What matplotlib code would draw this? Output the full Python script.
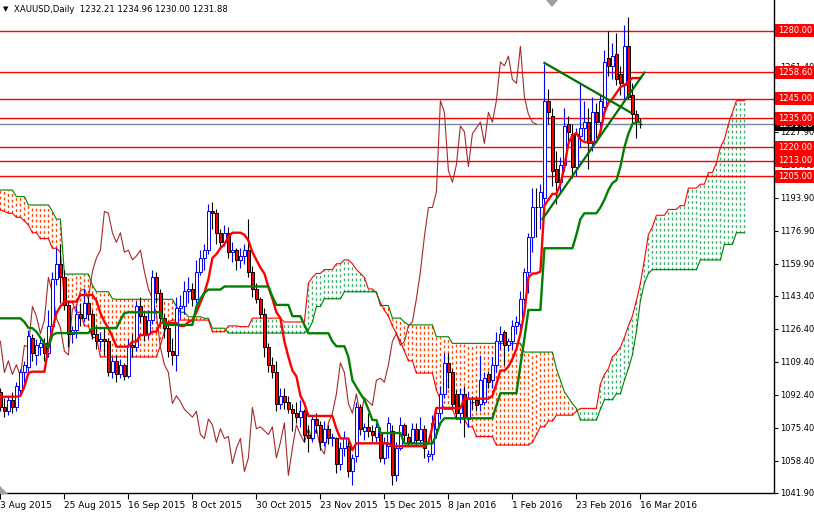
import numpy as np
import matplotlib
matplotlib.use('Agg')
from matplotlib import pyplot as plt
from matplotlib.patches import Polygon, Rectangle

# XAUUSD daily bars, 3 Aug 2015 .. 16 Mar 2016
opens = [1094, 1086, 1084, 1090, 1086, 1095, 1104, 1107, 1122, 1113,
         1117, 1119, 1114, 1128, 1152, 1160, 1153, 1139, 1124, 1126,
         1134, 1132, 1140, 1134, 1124, 1120, 1121, 1120, 1104, 1110,
         1103, 1108, 1102, 1118, 1117, 1138, 1133, 1124, 1131, 1153,
         1145, 1132, 1127, 1115, 1113, 1137, 1138, 1146, 1147, 1142,
         1156, 1163, 1167, 1187, 1186, 1176, 1171, 1176, 1166, 1167,
         1162, 1164, 1167, 1156, 1147, 1142, 1134, 1117, 1108, 1104,
         1088, 1092, 1089, 1085, 1083, 1081, 1084, 1072, 1070, 1080,
         1077, 1068, 1075, 1070, 1070, 1057, 1065, 1066, 1053, 1061,
         1086, 1074, 1076, 1074, 1071, 1073, 1060, 1066, 1074, 1051,
         1065, 1077, 1071, 1068, 1075, 1069, 1075, 1061, 1062, 1075,
         1083, 1093, 1109, 1104, 1093, 1083, 1093, 1080, 1089, 1090,
         1088, 1089, 1103, 1100, 1108, 1120, 1125, 1118, 1120, 1128,
         1129, 1142, 1156, 1174, 1189, 1189, 1194, 1244, 1236, 1209,
         1202, 1211, 1232, 1227, 1210, 1226, 1230, 1233, 1222, 1238,
         1233, 1241, 1266, 1262, 1268, 1258, 1252, 1272, 1247, 1237,
         1232.21]
highs = [1096, 1091, 1092, 1094, 1099, 1106, 1110, 1126, 1124, 1121,
         1121, 1122, 1136, 1156, 1168, 1170, 1157, 1141, 1128, 1138,
         1140, 1147, 1143, 1136, 1128, 1125, 1127, 1122, 1112, 1113,
         1111, 1109, 1121, 1124, 1141, 1143, 1135, 1136, 1157, 1156,
         1147, 1134, 1129, 1122, 1143, 1144, 1151, 1153, 1150, 1162,
         1167, 1170, 1191, 1192, 1188, 1178, 1180, 1179, 1171, 1168,
         1168, 1170, 1183, 1159, 1150, 1143, 1137, 1119, 1112, 1110,
         1096, 1096, 1092, 1088, 1089, 1090, 1085, 1077, 1082, 1083,
         1079, 1079, 1077, 1073, 1071, 1068, 1074, 1070, 1062, 1089,
         1088, 1078, 1083, 1077, 1078, 1076, 1071, 1081, 1077, 1068,
         1081, 1078, 1073, 1078, 1078, 1081, 1077, 1064, 1082, 1086,
         1097, 1114, 1114, 1106, 1095, 1096, 1097, 1094, 1092, 1092,
         1113, 1104, 1105, 1112, 1125, 1128, 1126, 1122, 1131, 1133,
         1146, 1158, 1176, 1199, 1199, 1201, 1263, 1250, 1240, 1218,
         1215, 1240, 1236, 1232, 1230, 1253, 1244, 1240, 1246, 1243,
         1247, 1270, 1280, 1274, 1279, 1262, 1283, 1287, 1253, 1239,
         1234.96]
lows = [1084, 1081, 1082, 1083, 1084, 1092, 1098, 1104, 1110, 1108,
        1113, 1110, 1112, 1126, 1149, 1140, 1136, 1117, 1119, 1122,
        1128, 1130, 1131, 1121, 1116, 1116, 1113, 1102, 1101, 1099,
        1101, 1100, 1101, 1112, 1115, 1130, 1120, 1122, 1129, 1140,
        1128, 1122, 1112, 1108, 1105, 1132, 1134, 1140, 1138, 1140,
        1154, 1157, 1165, 1178, 1170, 1168, 1169, 1163, 1161, 1157,
        1158, 1160, 1153, 1143, 1140, 1132, 1112, 1104, 1101, 1084,
        1085, 1085, 1083, 1074, 1078, 1076, 1068, 1063, 1068, 1073,
        1064, 1066, 1067, 1066, 1052, 1054, 1061, 1050, 1046, 1058,
        1072, 1069, 1071, 1068, 1068, 1058, 1057, 1060, 1046, 1048,
        1064, 1068, 1066, 1067, 1066, 1067, 1060, 1058, 1059, 1070,
        1080, 1091, 1096, 1085, 1080, 1078, 1071, 1076, 1085, 1084,
        1084, 1087, 1096, 1096, 1104, 1116, 1108, 1115, 1116, 1124,
        1124, 1139, 1145, 1166, 1174, 1178, 1191, 1232, 1200, 1191,
        1196, 1208, 1223, 1204, 1205, 1220, 1224, 1209, 1218, 1225,
        1228, 1238, 1257, 1255, 1252, 1247, 1245, 1245, 1232, 1225,
        1230.00]
closes = [1086, 1084, 1090, 1086, 1097, 1104, 1108, 1123, 1114, 1118,
          1119, 1114, 1128, 1152, 1160, 1153, 1139, 1124, 1126, 1134,
          1132, 1140, 1134, 1124, 1120, 1121, 1120, 1104, 1110, 1103,
          1108, 1102, 1118, 1117, 1138, 1133, 1124, 1131, 1153, 1145,
          1132, 1127, 1115, 1113, 1137, 1138, 1146, 1147, 1142, 1156,
          1163, 1167, 1187, 1186, 1176, 1171, 1176, 1166, 1167, 1162,
          1164, 1167, 1156, 1147, 1142, 1134, 1117, 1108, 1104, 1088,
          1092, 1089, 1085, 1083, 1081, 1084, 1072, 1070, 1080, 1077,
          1068, 1075, 1070, 1071, 1057, 1065, 1070, 1053, 1060, 1086,
          1075, 1076, 1074, 1072, 1076, 1060, 1068, 1078, 1051, 1065,
          1077, 1072, 1068, 1075, 1069, 1075, 1065, 1062, 1078, 1083,
          1093, 1109, 1104, 1088, 1083, 1093, 1081, 1091, 1089, 1087,
          1100, 1101, 1099, 1108, 1120, 1124, 1118, 1120, 1128, 1130,
          1142, 1156, 1174, 1189, 1189, 1197, 1244, 1238, 1208, 1202,
          1211, 1231, 1228, 1210, 1227, 1230, 1233, 1222, 1238, 1233,
          1244, 1264, 1262, 1267, 1255, 1253, 1272, 1246, 1237, 1233,
          1231.88]

# Ichimoku lines as drawn on the chart
tenkan = ([1091.5] * 5 + [1092, 1096.7, 1103.7] + [1104.4] * 4
          + [1117, 1126, 1134.6, 1138] + [1140.5] * 4 + [1143.9] * 4
          + [1141, 1134.6, 1130.2, 1126.8, 1122.4] + [1117.3] * 4
          + [1119.9] * 2 + [1123.3] * 3 + [1125] * 2 + [1129.5] * 5 + [1128] * 2
          + [1130, 1131, 1135, 1140, 1145, 1152, 1163, 1165, 1168, 1170, 1174]
          + [1176] * 3
          + [1175, 1172, 1166, 1162, 1158, 1155, 1148, 1142, 1135, 1132,
             1120, 1112, 1105, 1102, 1092, 1088]
          + [1081.6] * 7 + [1075] + [1070] * 3 + [1064] + [1067.5] * 9
          + [1066] * 9 + [1067.7, 1076] + [1085.7] * 7 + [1090.5] * 7
          + [1092, 1098] + [1105] * 2 + [1107, 1111, 1116, 1124, 1135, 1153]
          + [1155] * 2 + [1156, 1190, 1193] + [1196] * 2
          + [1201, 1210, 1222, 1226, 1227.4, 1224] + [1222.7] * 4
          + [1228, 1238, 1243, 1245, 1248, 1251, 1252, 1254] + [1255.7] * 3)
kijun = ([1131.9] * 6 + [1130, 1127, 1126.8, 1125, 1122, 1119, 1117, 1123.3]
         + [1124.3] * 9 + [1126.9] * 7 + [1131, 1134.6] + [1135] * 9
         + [1128.5] * 8 + [1138, 1142, 1145] + [1146.7] * 4 + [1148.3] * 12
         + [1143] + [1138.8] * 4 + [1133] * 3 + [1128.5] + [1124.2] * 6
         + [1120] + [1117.5] * 3 + [1112, 1100, 1096.5, 1093, 1090, 1085]
         + [1079.5] * 2 + [1072.8] * 6 + [1067.4] * 8 + [1072, 1078]
         + [1080.4] * 13 + [1087] + [1093.3] * 5 + [1107.6, 1121.4]
         + [1136.2] * 4 + [1168] * 8 + [1175, 1183] + [1186] * 4
         + [1189, 1193, 1198, 1201.6, 1203, 1210, 1220, 1227, 1232] + [1233] * 2)
span_a = ([1187.7, 1187] + [1186] * 2 + [1184] * 2 + [1182, 1180] + [1176] * 2
          + [1173] * 3 + [1168] * 2 + [1166] + [1140] * 3 + [1135] * 2
          + [1128] * 2 + [1122] * 2 + [1112] * 15 + [1118, 1125, 1130]
          + [1131] * 10 + [1125] * 4 + [1128] * 3 + [1127.6] * 3 + [1132] * 8
          + [1130] * 6 + [1150, 1153] + [1155] * 2 + [1157] * 3 + [1160] * 2
          + [1162] * 2 + [1160, 1157, 1155, 1153] + [1147] * 2
          + [1145, 1140, 1136, 1133, 1128, 1124, 1120, 1115] + [1110] * 2
          + [1103.7] * 5 + [1095, 1090] + [1085] * 3 + [1080] * 3 + [1076] * 2
          + [1071] * 5 + [1066.6] * 9 + [1068, 1072] + [1076] * 2 + [1079] * 2
          + [1082] * 5 + [1084] + [1085.5] * 5
          + [1098, 1103, 1106, 1112, 1114, 1117, 1122, 1128, 1133, 1141,
             1150, 1162, 1175, 1179]
          + [1185] * 3 + [1188] * 3 + [1190] * 2 + [1199] * 3 + [1201] * 2
          + [1207] * 2 + [1212, 1220, 1224, 1232, 1238] + [1244] * 3)
span_b = ([1198] * 4 + [1194.6] * 3 + [1190.3] * 6 + [1187, 1183, 1183]
          + [1154.7] * 7 + [1149] + [1145.6] * 4 + [1142] + [1141.7] * 15
          + [1138] + [1135] * 2 + [1132.7] * 4 + [1131.9] * 2 + [1126.8] * 4
          + [1124.3] * 20 + [1126, 1130] + [1138] * 2 + [1142] * 5
          + [1145.6] * 9 + [1138.5] * 3 + [1132] * 3 + [1130] + [1128.5] * 7
          + [1122.4] * 4 + [1119] * 18 + [1114.5] * 8
          + [1106, 1100, 1094, 1091, 1088, 1085.5] + [1079.5] * 5 + [1085]
          + [1090] * 3 + [1093] * 2 + [1100, 1106, 1113, 1125, 1141, 1150, 1155]
          + [1157] * 12 + [1162] * 6 + [1170] * 3 + [1176] * 3)

levels = [1280.00, 1258.60, 1245.00, 1235.00, 1220.00, 1213.00, 1205.00]
last_price = 1231.88
ytick_vals = [1041.90, 1058.40, 1075.40, 1092.40, 1109.40, 1126.40, 1143.40,
              1159.90, 1176.90, 1193.90, 1210.90, 1227.90, 1244.90, 1261.40, 1278.40]
date_idx = [0, 16, 32, 48, 64, 80, 96, 112, 128, 144, 160]
date_lbl = ['3 Aug 2015', '25 Aug 2015', '16 Sep 2015', '8 Oct 2015', '30 Oct 2015',
            '23 Nov 2015', '15 Dec 2015', '8 Jan 2016', '1 Feb 2016', '23 Feb 2016',
            '16 Mar 2016']
# hand-drawn trend lines (bar index, price)
tl_down = ([136, 157.5], [1263.5, 1238.0])
tl_up = ([135.5, 161.0], [1183.0, 1258.5])

plt.rcParams['font.family'] = ['DejaVu Sans']
W, H = 814, 514
fig = plt.figure(figsize=(W / 100, H / 100), dpi=100)
ax = fig.add_axes([0, 21 / H, 774 / W, 493 / H])
ax.set_xlim(-0.1, 193.4)
ax.set_ylim(1041.9, 1295.9)
px = (1295.9 - 1041.9) / 493  # price per pixel

o = np.array(opens); h = np.array(highs); l = np.array(lows); c = np.array(closes)
x = np.arange(len(c))
xc = np.arange(len(span_a))
a = np.array(span_a); b = np.array(span_b)

# kumo, drawn as dotted vertical lines per bar
up = a >= b
ax.vlines(xc[up], b[up], a[up], colors='#3CB371', linestyles=(0, (2, 2)), lw=1, zorder=1)
ax.vlines(xc[~up], a[~up], b[~up], colors='#FF4500', linestyles=(0, (2, 2)), lw=1, zorder=1)
ax.plot(xc, a, color='#FF0000', lw=0.8, zorder=2)
ax.plot(xc, b, color='#008000', lw=0.8, zorder=2)

# chikou span = close shifted back 26 bars
ax.plot(x[:-26], c[26:], color='#A52A2A', lw=0.8, zorder=2)

for lv in levels:
    ax.axhline(lv, color='#FF0000', lw=1, zorder=1.5)
ax.axhline(last_price, color='#778899', lw=1, zorder=1.5)

# candles
bull = c > o
ax.vlines(x[bull], l[bull], h[bull], color='#0000FF', lw=0.8, zorder=3)
ax.vlines(x[~bull], l[~bull], h[~bull], color='black', lw=0.8, zorder=3)
ax.bar(x[bull], (c - o)[bull], bottom=o[bull], width=0.7, facecolor='white',
       edgecolor='#0000FF', lw=0.7, zorder=3.1)
ax.bar(x[~bull], (o - c)[~bull], bottom=c[~bull], width=0.7, facecolor='#FF0000',
       edgecolor='black', lw=0.7, zorder=3.1)

ax.plot(x, tenkan, color='#FF0000', lw=1.7, zorder=4)
ax.plot(x, kijun, color='#008000', lw=1.7, zorder=4)

ax.plot(*tl_down, color='#007000', lw=1.6, zorder=5)
ax.plot(*tl_up, color='#007000', lw=1.6, zorder=5)

# axes look
for s in ['top', 'left']:
    ax.spines[s].set_visible(False)
ax.spines['right'].set_linewidth(1)
ax.spines['bottom'].set_linewidth(1)
ax.yaxis.tick_right()
ax.set_yticks(ytick_vals)
ax.set_yticklabels([f'{v:.2f}' for v in ytick_vals])
ax.set_xticks(date_idx)
ax.set_xticklabels(date_lbl)
for t in ax.get_xticklabels():
    t.set_ha('left')
ax.tick_params(axis='y', length=3, pad=1.5, labelsize=6, direction='out')
ax.tick_params(axis='x', length=4, pad=2, labelsize=6.5, direction='out')

# price labels on the right scale
tr = ax.get_yaxis_transform()
def price_tag(val, fc, z):
    ax.add_patch(Rectangle((1.0 + 1 / 774, val - 6.5 * px), 40 / 774, 13 * px,
                           transform=tr, fc=fc, ec='none', clip_on=False, zorder=z))
    ax.text(1.0 + 4 / 774, val, f'{val:.2f}', transform=tr, color='white',
            fontsize=6, va='center', ha='left', zorder=z + 0.05, clip_on=False)

price_tag(last_price, 'black', 5.8)
for lv in levels:
    price_tag(lv, '#FF0000', 6)

fig.text(3 / W, 1 - 9 / H, '\u25BC', fontsize=5, va='center')
fig.text(14 / W, 1 - 9 / H, 'XAUUSD,Daily  1232.21 1234.96 1230.00 1231.88',
         fontsize=6.1, va='center')
fig.patches.append(Polygon([[546 / W, 1], [558 / W, 1], [552 / W, 1 - 7 / H]],
                           closed=True, fc='#A0A0A0', ec='none', transform=fig.transFigure))
fig.patches.append(Polygon([[0, 1 - 486 / H], [0, 1 - 494 / H], [8 / W, 1 - 494 / H]],
                           closed=True, fc='#A0A0A0', ec='none', transform=fig.transFigure))

fig.savefig('out.png', dpi=100, facecolor='white')
